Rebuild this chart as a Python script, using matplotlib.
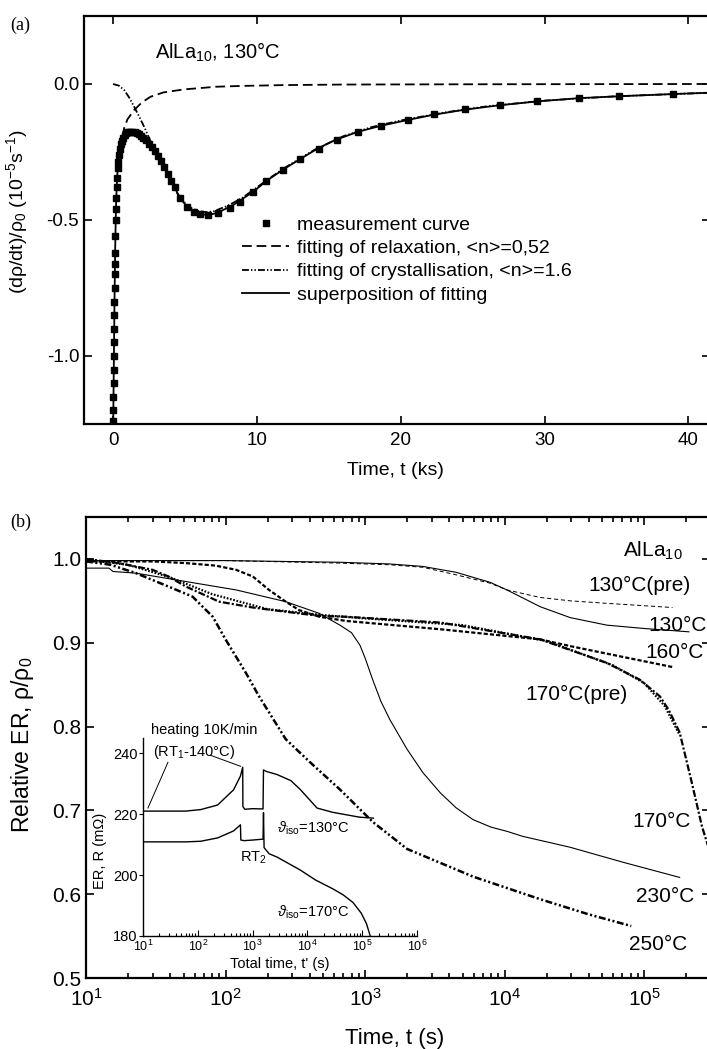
import numpy as np
import matplotlib
matplotlib.use("Agg")
import matplotlib.pyplot as plt
from matplotlib.ticker import LogLocator, NullFormatter

plt.rcParams['font.family'] = ['Liberation Sans', 'DejaVu Sans']
plt.rcParams['mathtext.fontset'] = 'custom'
plt.rcParams['mathtext.rm'] = 'Liberation Sans'
plt.rcParams['mathtext.it'] = 'Liberation Sans:italic'
plt.rcParams['axes.unicode_minus'] = False
plt.rcParams['lines.scale_dashes'] = False

# ---- panel (a): rate of resistivity change, AlLa10 at 130 C ----
meas_t = [0.01, 0.02, 0.03, 0.04, 0.05, 0.06, 0.07, 0.08, 0.09, 0.10, 0.11, 0.12, 0.13,
          0.14, 0.16, 0.18, 0.20, 0.22, 0.25, 0.28, 0.32, 0.36, 0.42, 0.48, 0.55, 0.62,
          0.70, 0.80, 0.90, 1.00, 1.10, 1.20, 1.35, 1.50, 1.65, 1.80, 1.95, 2.10, 2.30,
          2.50, 2.70, 2.90, 3.10, 3.30, 3.55, 3.80, 4.05, 4.30, 4.66, 5.15, 5.60, 6.05,
          6.60, 7.30, 8.10, 8.80, 9.75, 10.6, 11.8, 13.0, 14.3, 15.6, 17.0, 18.6, 20.5,
          22.3, 24.5, 26.9, 29.5, 32.4, 35.2, 38.9]
meas_y = [-1.24, -1.20, -1.15, -1.10, -1.05, -1.00, -0.95, -0.90, -0.85, -0.80, -0.75,
          -0.70, -0.66, -0.62, -0.56, -0.50, -0.46, -0.42, -0.38, -0.345, -0.31, -0.285,
          -0.26, -0.24, -0.222, -0.208, -0.197, -0.187, -0.181, -0.178, -0.176, -0.175,
          -0.175, -0.177, -0.180, -0.185, -0.190, -0.197, -0.207, -0.220, -0.233, -0.248,
          -0.265, -0.283, -0.306, -0.330, -0.355, -0.380, -0.420, -0.451, -0.470, -0.479,
          -0.481, -0.475, -0.456, -0.432, -0.396, -0.358, -0.316, -0.276, -0.238, -0.205,
          -0.176, -0.154, -0.132, -0.112, -0.093, -0.077, -0.063, -0.051, -0.045, -0.037]

relax_t = [0.40, 0.55, 0.77, 1.0, 1.46, 2.0, 2.6, 3.5, 4.9, 7.2, 9.0, 11.9, 16.0, 25.0, 41.5]
relax_y = [-0.30, -0.22, -0.162, -0.13, -0.096, -0.068, -0.047, -0.031, -0.020, -0.010,
           -0.007, -0.004, -0.002, -0.001, 0.0]

cryst_t = [0.0, 0.4, 0.77, 1.1, 1.46, 1.8, 2.16, 2.5, 2.86, 3.2, 3.55, 4.0, 4.5, 5.0, 5.5,
           6.0, 6.5, 7.0, 8.0, 9.0, 10.0, 11.0, 12.0, 14.0, 16.0, 18.0, 20.0, 23.0, 26.0,
           30.0, 35.0, 41.5]
cryst_y = [0.0, -0.006, -0.022, -0.048, -0.083, -0.118, -0.157, -0.198, -0.240, -0.275,
           -0.310, -0.360, -0.405, -0.437, -0.458, -0.468, -0.471, -0.468, -0.447, -0.418,
           -0.380, -0.342, -0.306, -0.242, -0.192, -0.158, -0.134, -0.105, -0.082, -0.061,
           -0.045, -0.032]

fit_t = [0.0, 0.05, 0.10, 0.15, 0.20, 0.25, 0.30, 0.40, 0.50, 0.70, 0.90, 1.10, 1.35, 1.70,
         2.00, 2.30, 2.62, 3.00, 3.55, 4.25, 4.66, 5.15, 5.60, 6.05, 6.60, 7.20, 8.35, 9.75,
         10.7, 11.9, 13.1, 14.2, 15.4, 17.0, 18.6, 20.5, 22.3, 24.5, 26.9, 29.5, 32.4, 35.2,
         38.9, 41.5]
fit_y = [-1.30, -1.05, -0.80, -0.60, -0.46, -0.38, -0.33, -0.275, -0.24, -0.20, -0.183,
         -0.176, -0.174, -0.182, -0.195, -0.210, -0.230, -0.262, -0.306, -0.377, -0.420,
         -0.451, -0.470, -0.479, -0.481, -0.475, -0.445, -0.396, -0.355, -0.312, -0.273,
         -0.238, -0.207, -0.176, -0.154, -0.132, -0.113, -0.094, -0.078, -0.064, -0.052,
         -0.045, -0.037, -0.032]

# ---- panel (b): relative electrical resistivity vs time ----
t_130pre = [10, 100, 660, 1500, 2600, 4500, 7900, 1.04e4, 1.8e4, 2.95e4, 5.4e4, 1.6e5]
r_130pre = [0.998, 0.998, 0.995, 0.993, 0.990, 0.981, 0.971, 0.963, 0.954, 0.950, 0.947, 0.942]

t_130 = [10, 100, 660, 1500, 2600, 4500, 7900, 1.04e4, 1.8e4, 2.95e4, 5.4e4, 1e5, 2.1e5]
r_130 = [0.998, 0.998, 0.996, 0.994, 0.991, 0.984, 0.972, 0.963, 0.943, 0.930, 0.921,
         0.917, 0.913]

t_160 = [10, 30, 52, 85, 119, 157, 205, 270, 336, 470, 730, 3500, 1.8e4, 2.95e4, 5.4e4, 1.6e5]
r_160 = [0.997, 0.997, 0.995, 0.992, 0.987, 0.979, 0.963, 0.949, 0.939, 0.931, 0.926,
         0.916, 0.904, 0.896, 0.887, 0.871]

t_170pre = [10, 20, 40, 80, 200, 500, 1000, 5000, 2e4, 6e4, 1e5, 1.4e5, 1.8e5]
r_170pre = [0.999, 0.993, 0.978, 0.958, 0.940, 0.933, 0.929, 0.921, 0.902, 0.873, 0.852,
            0.825, 0.790]

t_170 = [10, 17, 30, 39, 52, 90, 157, 270, 470, 730, 3500, 1.8e4, 5.4e4, 9.3e4, 1.3e5,
         1.5e5, 1.8e5, 2.2e5, 2.6e5, 2.97e5]
r_170 = [1.000, 0.995, 0.987, 0.979, 0.967, 0.949, 0.942, 0.937, 0.932, 0.931, 0.924,
         0.904, 0.876, 0.856, 0.836, 0.820, 0.793, 0.733, 0.681, 0.650]

t_230 = [10, 14.6, 15.6, 22.8, 52, 119, 270, 470, 660, 800, 920, 1000, 1140, 1300, 1510,
         2000, 2600, 3460, 4500, 5940, 8000, 1.04e4, 1.35e4, 2.95e4, 7.1e4, 1.8e5]
r_230 = [0.989, 0.989, 0.985, 0.983, 0.973, 0.963, 0.949, 0.935, 0.921, 0.912, 0.897,
         0.882, 0.855, 0.830, 0.808, 0.773, 0.745, 0.721, 0.703, 0.689, 0.680, 0.675,
         0.669, 0.656, 0.638, 0.620]

t_250 = [10, 15, 22.8, 39, 58, 81, 100, 140, 174, 270, 400, 660, 1140, 2000, 5940, 1.8e4,
         4e4, 8.1e4]
r_250 = [0.997, 0.993, 0.983, 0.967, 0.955, 0.931, 0.904, 0.864, 0.836, 0.785, 0.758,
         0.725, 0.686, 0.654, 0.621, 0.594, 0.576, 0.562]

# inset: absolute resistance during the heat treatment
ins_t_up = [10, 60, 113, 230, 450, 600, 660, 665, 720, 1000, 1550, 1580, 1800, 2800, 5000,
            7500, 1.5e4, 2.9e4, 9e4, 1.6e5]
ins_r_up = [221.0, 221.0, 221.5, 223.0, 228.0, 232.5, 235.4, 222.5, 221.6, 221.8, 221.7,
            234.5, 234.0, 233.0, 231.0, 228.0, 222.0, 220.6, 219.0, 218.7]
ins_t_lo = [10, 60, 113, 230, 450, 600, 610, 700, 1000, 1550, 1580, 1620, 2000, 2800, 7500,
            1.4e4, 2.9e4, 4.5e4, 6.8e4, 9.6e4, 1.2e5, 1.4e5]
ins_r_lo = [210.9, 210.9, 211.1, 212.2, 214.5, 216.5, 211.5, 211.3, 211.5, 211.8, 220.5,
            209.0, 207.0, 205.9, 201.6, 198.4, 195.5, 193.5, 191.0, 187.5, 184.0, 180.0]

W, H = 707, 1049
fig = plt.figure(figsize=(W / 100, H / 100), dpi=100)


def px_axes(left, top, right, bottom):
    return [left / W, 1 - bottom / H, (right - left) / W, (bottom - top) / H]


def style_ticks(ax, size):
    ax.tick_params(which='both', direction='in', top=True, right=True, labelsize=size,
                   width=1.2)
    ax.tick_params(which='major', length=6)
    ax.tick_params(which='minor', length=3.5)
    for s in ax.spines.values():
        s.set_linewidth(1.6)


# ---------------- (a) ----------------
ax1 = fig.add_axes(px_axes(84, 16, 710, 424))
ax1.plot(relax_t, relax_y, color='black', lw=1.3, dashes=(7, 3.5),
         label='fitting of relaxation, <n>=0,52')
ax1.plot(cryst_t, cryst_y, color='black', lw=1.3, dashes=(5, 1.5, 1, 1.5, 1, 1.5),
         label='fitting of crystallisation, <n>=1.6')
ax1.plot(fit_t, fit_y, color='black', lw=1.3, label='superposition of fitting')
ax1.plot(meas_t, meas_y, ls='none', marker='s', ms=4.5, color='black',
         label='measurement curve')
ax1.set_xlim(-2.02, 41.5)
ax1.set_ylim(-1.25, 0.25)
ax1.set_xticks([0, 10, 20, 30, 40])
ax1.set_yticks([-1.0, -0.5, 0.0])
ax1.set_yticklabels(['-1.0', '-0.5', '0.0'])
style_ticks(ax1, 13.5)
ax1.tick_params(axis='x', which='major', pad=6)
ax1.set_xlabel('Time, t (ks)', fontsize=14)
ax1.xaxis.set_label_coords(0.497, -0.093)
ax1.set_ylabel('(dρ/dt)/ρ$_0$ (10$^{-5}$s$^{-1}$)', fontsize=14)
ax1.yaxis.set_label_coords(-0.086, 0.52)
ax1.text(2.9, 0.118, 'AlLa$_{10}$, 130°C', fontsize=14.5, va='center')

h, l = ax1.get_legend_handles_labels()
order = [3, 0, 1, 2]
ax1.legend([h[i] for i in order], [l[i] for i in order], loc='upper left',
           bbox_to_anchor=(0.252, 0.51), frameon=False, fontsize=14, handlelength=2.45,
           handletextpad=0.4, labelspacing=0.3, borderpad=0, borderaxespad=0)
fig.text(10 / W, 1 - 25 / H, '(a)', family=['Liberation Serif', 'DejaVu Serif'],
         fontsize=13, va='center')

# ---------------- (b) ----------------
ax2 = fig.add_axes(px_axes(86, 517, 710, 978))
ax2.plot(t_130pre, r_130pre, color='black', lw=0.7, dashes=(3, 2))
ax2.plot(t_130, r_130, color='black', lw=0.8)
ax2.plot(t_160, r_160, color='black', lw=1.6, dashes=(3, 1.5))
ax2.plot(t_170pre, r_170pre, color='black', lw=1.6, dashes=(1.2, 1.2))
ax2.plot(t_170, r_170, color='black', lw=1.6, dashes=(5, 1.5, 1.5, 1.5))
ax2.plot(t_230, r_230, color='black', lw=0.8)
ax2.plot(t_250, r_250, color='black', lw=1.8, dashes=(5, 1.8, 1.5, 1.8, 1.5, 1.8))
ax2.set_xscale('log')
ax2.set_xlim(10, 2.97e5)
ax2.set_ylim(0.5, 1.05)
ax2.set_xticks([1e1, 1e2, 1e3, 1e4, 1e5])
ax2.xaxis.set_minor_locator(LogLocator(base=10, subs=np.arange(2, 10), numticks=20))
ax2.xaxis.set_minor_formatter(NullFormatter())
ax2.set_yticks([0.5, 0.6, 0.7, 0.8, 0.9, 1.0])
ax2.set_yticklabels(['0.5', '0.6', '0.7', '0.8', '0.9', '1.0'])
style_ticks(ax2, 15)
ax2.tick_params(axis='x', which='major', pad=7)
ax2.set_xlabel('Time, t (s)', fontsize=16)
ax2.xaxis.set_label_coords(0.495, -0.108)
ax2.set_ylabel('Relative ER, ρ/ρ$_0$', fontsize=16.5)
ax2.yaxis.set_label_coords(-0.08, 0.505)
fig.text(10 / W, 1 - 522 / H, '(b)', family=['Liberation Serif', 'DejaVu Serif'],
         fontsize=13, va='center')

labels_b = [
    ('AlLa$_{10}$', 7.1e4, 1.010),
    ('130°C(pre)', 4.0e4, 0.968),
    ('130°C', 1.07e5, 0.921),
    ('160°C', 1.03e5, 0.888),
    ('170°C(pre)', 1.4e4, 0.838),
    ('170°C', 8.3e4, 0.687),
    ('230°C', 8.7e4, 0.597),
    ('250°C', 7.8e4, 0.540),
]
for txt, x, y in labels_b:
    ax2.text(x, y, txt, fontsize=15, va='center', ha='left', clip_on=False)

# ---------------- inset ----------------
ax3 = fig.add_axes(px_axes(143, 738, 417, 936))
ax3.patch.set_alpha(0)
ax3.plot(ins_t_up, ins_r_up, color='black', lw=1.0)
ax3.plot(ins_t_lo, ins_r_lo, color='black', lw=1.0)
ax3.set_xscale('log')
ax3.set_xlim(10, 1e6)
ax3.set_ylim(180, 245)
ax3.set_xticks([1e1, 1e2, 1e3, 1e4, 1e5, 1e6])
ax3.xaxis.set_minor_locator(LogLocator(base=10, subs=np.arange(2, 10), numticks=20))
ax3.xaxis.set_minor_formatter(NullFormatter())
ax3.set_yticks([180, 200, 220, 240])
ax3.spines['top'].set_visible(False)
ax3.spines['right'].set_visible(False)
for s in ax3.spines.values():
    s.set_linewidth(1.0)
ax3.tick_params(axis='x', which='both', direction='in', labelsize=9, width=0.8, pad=2)
ax3.tick_params(axis='x', which='major', length=4)
ax3.tick_params(axis='x', which='minor', length=2.5)
ax3.tick_params(axis='y', direction='out', labelsize=10.5, width=0.8, length=3, pad=1)
ax3.set_xlabel("Total time, t' (s)", fontsize=10.5)
ax3.xaxis.set_label_coords(0.5, -0.105)
ax3.set_ylabel('ER, R (mΩ)', fontsize=10.5)
ax3.yaxis.set_label_coords(-0.13, 0.43)

ax3.text(14, 247.5, 'heating 10K/min', fontsize=10.5, va='center', clip_on=False)
ax3.text(15, 240.3, '(RT$_1$-140°C)', fontsize=10.5, va='center', clip_on=False)
ax3.plot([28.5, 12.3], [237, 222], color='black', lw=0.7)
ax3.plot([172, 605], [239.3, 235.7], color='black', lw=0.7)
ax3.text(2.8e3, 215.4, r'$\vartheta_{\rm iso}$=130°C', fontsize=10.5, va='center')
ax3.text(600, 205.6, 'RT$_2$', fontsize=10.5, va='center')
ax3.text(2.8e3, 187.9, r'$\vartheta_{\rm iso}$=170°C', fontsize=10.5, va='center')

fig.savefig('out.png', dpi=100)
